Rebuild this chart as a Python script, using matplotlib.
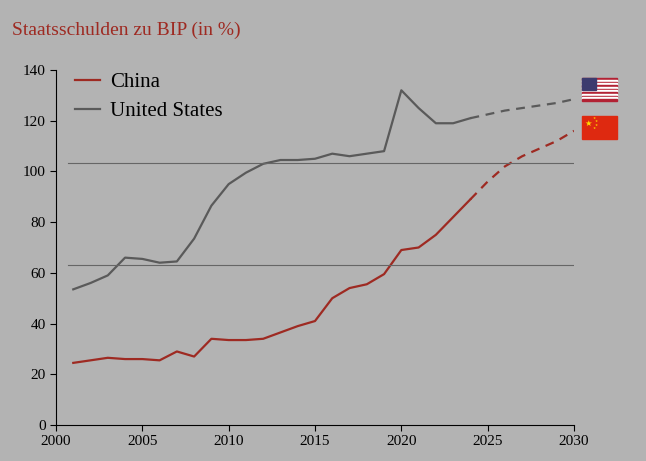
import numpy as np
import matplotlib.pyplot as plt
from matplotlib.patches import Rectangle

years = np.arange(2001, 2031)
us = [53.5, 56, 59, 66, 65.5, 64, 64.5, 73.5, 86.5, 95, 99.5, 103, 104.5, 104.5, 105,
      107, 106, 107, 108, 132, 125, 119, 119, 121, 122.5, 124, 125, 126, 127, 128.5]
china = [24.5, 25.5, 26.5, 26, 26, 25.5, 29, 27, 34, 33.5, 33.5, 34, 36.5, 39, 41,
         50, 54, 55.5, 59.5, 69, 70, 75, 82, 89, 96, 102, 106, 109, 112, 116]
split = 2024  # last actual year, forecast after
ref_lines = [103.3, 63]

BG = "#b3b3b3"; RED = "#9e2a22"; GREY = "#5a5a5a"
plt.rcParams["font.family"] = ["Liberation Serif", "DejaVu Serif"]

fig = plt.figure(figsize=(6.46, 4.61), dpi=100, facecolor=BG)
ax = fig.add_axes([56/646, 1-425/461, 518/646, 355/461], facecolor=BG)

k = list(years).index(split) + 1
for vals, col, lab in [(china, RED, "China"), (us, GREY, "United States")]:
    ax.plot(years[:k], vals[:k], color=col, lw=1.6, label=lab)
    ax.plot(years[k-1:], vals[k-1:], color=col, lw=1.6, ls=(0, (4, 3)))
for y in ref_lines:
    ax.plot([2000.7, 2030], [y, y], color="#666666", lw=0.8)

ax.set_xlim(2000, 2030); ax.set_ylim(0, 140)
ax.set_xticks(range(2000, 2031, 5)); ax.set_yticks(range(0, 141, 20))
ax.tick_params(labelsize=11, length=4, direction="out")
for s in ["top", "right"]:
    ax.spines[s].set_visible(False)
ax.legend(loc="upper left", bbox_to_anchor=(0.0, 1.045), frameon=False, fontsize=15,
          handlelength=1.2, handletextpad=0.5, labelspacing=0.45)
fig.text(12/646, 1-30/461, "Staatsschulden zu BIP (in %)", color=RED, fontsize=14, va="center")

# flags
def fx(x): return x/646
def fy(y): return 1-y/461
x0, x1 = 582, 617
# US flag
top, bot = 78, 101
h = bot - top
for i in range(13):
    c = "#b22234" if i % 2 == 0 else "white"
    fig.patches.append(Rectangle((fx(x0), fy(top + (i+1)*h/13)), fx(x1-x0), h/13/461,
                                 transform=fig.transFigure, color=c))
fig.patches.append(Rectangle((fx(x0), fy(top + h*7/13)), fx(14), h*7/13/461,
                             transform=fig.transFigure, color="#3c3b6e"))
# China flag
top, bot = 116, 139
fig.patches.append(Rectangle((fx(x0), fy(bot)), fx(x1-x0), (bot-top)/461,
                             transform=fig.transFigure, color="#de2910"))
fig.text(fx(588), fy(123), "★", color="#ffde00", fontsize=6, ha="center", va="center",
         family="DejaVu Sans")
for dx, dy in [(594, 118), (596, 121), (596, 125), (594, 128)]:
    fig.text(fx(dx), fy(dy), "★", color="#ffde00", fontsize=2.5, ha="center", va="center",
             family="DejaVu Sans")

fig.savefig("out.png", dpi=100, facecolor=BG)
